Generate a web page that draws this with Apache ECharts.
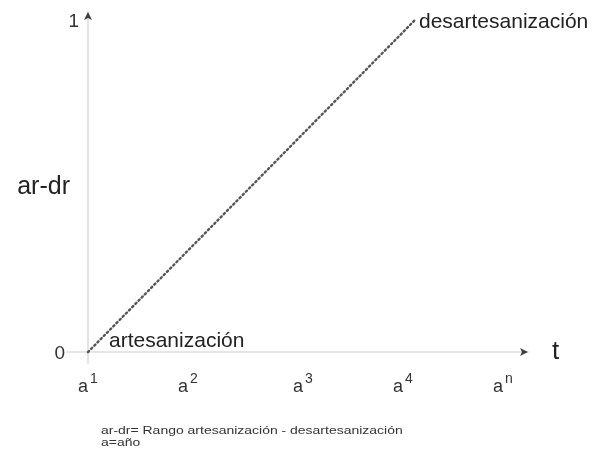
<!DOCTYPE html>
<html>
<head>
<meta charset="utf-8">
<script src="https://cdn.jsdelivr.net/npm/echarts@6/dist/echarts.min.js"></script>
<style>
  html, body { margin: 0; padding: 0; background: #fff; }
  #chart { width: 594px; height: 455px; }
</style>
</head>
<body>
<div id="chart"></div>
<script>
// year positions on the time axis (a1 ... an), uneven as in the drawing
let tickPos = [0, 1, 2.15, 3.15, 4.15];
let tickSup = ['1', '2', '3', '4', 'n'];
// the ar-dr line: from artesanización (0) to desartesanización (1)
let lineX = [0, 3.27];
let lineY = [0, 1];
let pointNames = ['artesanización', 'desartesanización'];
let yTicks = [0, 1];

let xMin = -0.21, xMax = 4.4;
let yMin = -0.033, yMax = 1.024;

let font = '"Liberation Sans", Arial, sans-serif';
let myChart = echarts.init(document.getElementById('chart'));

let option = {
    backgroundColor: '#fff',
    animation: false,
    textStyle: { fontFamily: font },
    grid: { left: 67, right: 66, top: 12, bottom: 92, containLabel: false, outerBoundsMode: 'none' },
    xAxis: {
        type: 'value',
        min: xMin,
        max: xMax,
        name: 't',
        nameLocation: 'end',
        nameGap: 24,
        nameTextStyle: { fontSize: 26, color: '#222', padding: [10, 0, 0, 0] },
        splitLine: { show: false },
        axisTick: { show: false },
        axisLine: { onZero: true, lineStyle: { color: '#e6e6e6', width: 2 } },
        axisLabel: {
            customValues: tickPos,
            margin: 9,
            formatter: function (v) {
                let i = tickPos.indexOf(v);
                return '{a|a}{s|' + tickSup[i] + '}';
            },
            rich: {
                a: { fontSize: 18, color: '#333', fontFamily: font, verticalAlign: 'bottom' },
                s: { fontSize: 14, color: '#333', fontFamily: font, padding: [0, 0, 10, 2], verticalAlign: 'bottom' }
            }
        }
    },
    yAxis: {
        type: 'value',
        min: yMin,
        max: yMax,
        name: 'ar-dr',
        nameLocation: 'middle',
        nameRotate: 0,
        nameGap: -3,
        nameMoveOverlap: false,
        nameTextStyle: { fontSize: 25, color: '#222', padding: [0, 0, 10, 0] },
        splitLine: { show: false },
        axisTick: { show: false },
        axisLine: { onZero: true, lineStyle: { color: '#e3e3e3', width: 2 } },
        axisLabel: {
            customValues: yTicks,
            margin: -12,
            formatter: function (v) {
                return v === 0 ? '{z|0}' : '{o|1}';
            },
            rich: {
                z: { fontSize: 19, color: '#333', fontFamily: font, padding: [4, 14, 0, 0] },
                o: { fontSize: 19, color: '#333', fontFamily: font, padding: [4, 0, 0, 0] }
            }
        }
    },
    series: [{
        type: 'line',
        data: lineX.map((x, i) => ({ value: [x, lineY[i]], name: pointNames[i] })),
        showSymbol: true,
        symbol: 'circle',
        symbolSize: 0,
        lineStyle: { color: '#555', width: 2.4, type: [1.5, 3], cap: 'round' },
        label: {
            show: true,
            position: 'right',
            distance: 4,
            fontSize: 21,
            color: '#222',
            formatter: p => p.name
        },
        labelLayout: function (params) {
            return params.dataIndex === 0
                ? { dx: 17, dy: -11 }
                : { dx: 0, dy: 2 };
        }
    }, {
        // axis arrow heads
        type: 'scatter',
        data: [{ value: [xMax, 0], symbolRotate: -90 }, { value: [0, yMax], symbolRotate: 0 }],
        symbol: 'arrow',
        symbolSize: [6, 8],
        itemStyle: { color: '#111' },
        silent: true
    }],
    graphic: [{
        type: 'text',
        left: 101,
        top: 425,
        scaleX: 1.27,
        style: {
            text: 'ar-dr= Rango artesanización - desartesanización\na=año',
            fontSize: 11,
            lineHeight: 12,
            fill: '#333',
            fontFamily: font
        }
    }]
};
myChart.setOption(option);
</script>
</body>
</html>
